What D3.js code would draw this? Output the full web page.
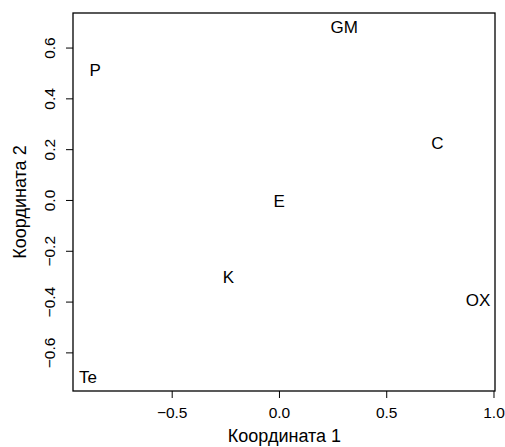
<!DOCTYPE html>
<html><head><meta charset="utf-8">
<script src="https://cdn.jsdelivr.net/npm/d3@7/dist/d3.min.js"></script>
<style>body{margin:0;background:#fff}svg{display:block}text{font-family:"Liberation Sans",Arial,Helvetica,sans-serif}</style>
</head><body>
<script>
const labels = ["GM","P","C","E","K","OX","Te"];
const coord1 = [0.304,-0.857,0.739,0.001,-0.236,0.928,-0.890];
const coord2 = [0.680,0.509,0.223,-0.007,-0.306,-0.394,-0.700];
const xTicks = [-0.5,0.0,0.5,1.0];
const yTicks = [-0.6,-0.4,-0.2,0.0,0.2,0.4,0.6];
const xTitle = "Координата 1";
const yTitle = "Координата 2";

const W=505,H=447;
const L=73,R=495,T=13,B=391;
const svg=d3.select("body").append("svg").attr("width",W).attr("height",H);
const x=d3.scaleLinear().domain([-0.96,1.007]).range([L,R]);
const y=d3.scaleLinear().domain([-0.752,0.736]).range([B,T]);

const fmt=d3.format(".1f");
const xa=svg.append("g").attr("transform",`translate(0,${B})`)
  .call(d3.axisBottom(x).tickValues(xTicks).tickFormat(fmt).tickSize(7));
xa.select(".domain").remove();
xa.selectAll("text").attr("font-size",15.5).attr("fill","#000").attr("font-family","Liberation Sans, Arial, sans-serif")
  .attr("y",21.5).attr("dy",0).attr("dominant-baseline","central");
xa.selectAll("line").attr("stroke","#000");

const ya=svg.append("g").attr("transform",`translate(${L},0)`)
  .call(d3.axisLeft(y).tickValues(yTicks).tickFormat(fmt).tickSize(7));
ya.select(".domain").remove();
ya.selectAll("line").attr("stroke","#000");
ya.selectAll("text").attr("font-size",15.5).attr("fill","#000").attr("font-family","Liberation Sans, Arial, sans-serif")
  .attr("x",0).attr("y",0).attr("dy",0).attr("text-anchor","middle")
  .attr("transform","translate(-24,0) rotate(-90)").attr("dominant-baseline","central");

svg.append("rect").attr("x",L).attr("y",T).attr("width",R-L).attr("height",B-T)
  .attr("fill","none").attr("stroke","#000").attr("stroke-width",1.3);

svg.selectAll("text.lab").data(labels).enter().append("text").attr("class","lab")
  .attr("x",(d,i)=>x(coord1[i])).attr("y",(d,i)=>y(coord2[i]))
  .attr("text-anchor","middle").attr("dominant-baseline","central")
  .attr("font-size",17).text(d=>d);

svg.append("text").attr("x",(L+R)/2+0.5).attr("y",442).attr("text-anchor","middle")
  .attr("font-size",18).text(xTitle);
svg.append("text").attr("transform",`translate(20,${(T+B)/2}) rotate(-90)`)
  .attr("text-anchor","middle").attr("dominant-baseline","central").attr("font-size",18).text(yTitle);
</script>
</body></html>
